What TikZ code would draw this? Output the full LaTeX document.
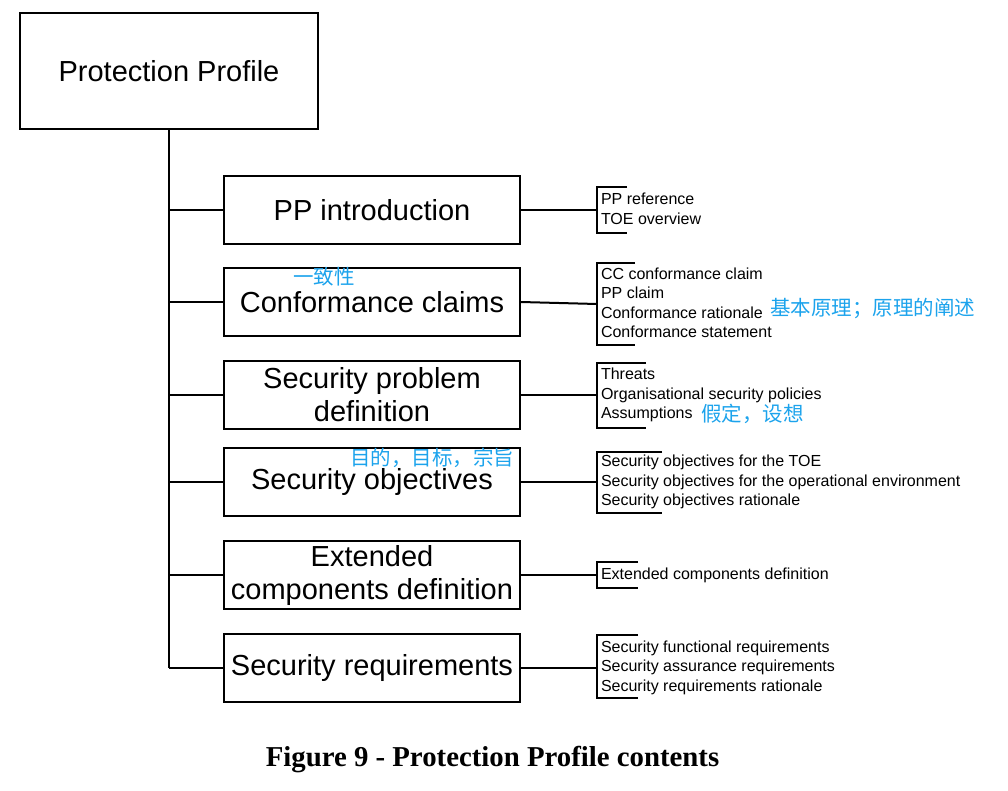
\documentclass[tikz,border=0pt]{standalone}
\usepackage{fontspec}
\setmainfont{Liberation Sans}
\newfontfamily\capfont{Liberation Serif}
\newfontfamily\cjk{Noto Sans CJK SC}
\definecolor{note}{HTML}{1CA3EC}
\begin{document}
\begin{tikzpicture}[x=1pt,y=-1pt,line width=2pt,
  bigbox/.style={draw,inner sep=0pt,minimum width=296pt,minimum height=68pt,align=center,font=\fontsize{29}{33}\selectfont},
  item/.style={anchor=west,inner sep=0pt,align=left,font=\fontsize{16}{19.5}\selectfont},
  cn/.style={inner sep=0pt,text=note,font=\cjk\fontsize{20.5}{22}\selectfont}]
\useasboundingbox (0,0) rectangle (1008,790);
\node[draw,inner sep=0pt,minimum width=298pt,minimum height=116pt,font=\fontsize{29}{33}\selectfont] (pp) at (169,71) {Protection Profile};
\node[bigbox] (b1) at (372,210) {PP introduction};
\node[bigbox] (b2) at (372,302) {Conformance claims};
\node[bigbox] (b3) at (372,395) {Security problem\\definition};
\node[bigbox] (b4) at (372,482) {\raisebox{-2pt}{Security objectives}};
\node[bigbox] (b5) at (372,575) {Extended\\components definition};
\node[bigbox] (b6) at (372,668) {Security requirements};
% trunk
\coordinate (t0) at (169,129);
\coordinate (t6) at (169,668);
\draw (pp.south -| t0) -- (t6);
\foreach \i in {1,...,6}{\draw (b\i.west -| t0) -- (b\i.west);}
% brackets
\coordinate (k1) at (597,210);
\coordinate (k2) at (597,304);
\coordinate (k3) at (597,395);
\coordinate (k4) at (597,482);
\coordinate (k5) at (597,575);
\coordinate (k6) at (597,668);
\foreach \i/\t/\bo/\r in {1/187/233/627,2/263/345/635,3/363/428/646,4/452/513/662,5/562/588/638,6/635/698/638}{
  \draw (b\i.east) -- (k\i);
  \draw (\r,\t) -- (597,\t) -- (597,\bo) -- (\r,\bo);
}
\node[item] (l1) at (600,209) {PP reference\\TOE overview};
\node[item] (l2) at (600,303) {CC conformance claim\\PP claim\\Conformance rationale\\Conformance statement};
\node[item] (l3) at (600,395) {Threats\\Organisational security policies\\Assumptions};
\node[item] (l4) at (600,482) {Security objectives for the TOE\\Security objectives for the operational environment\\Security objectives rationale};
\node[item] (l5) at (600,575) {Extended components definition};
\node[item] (l6) at (600,667.5) {Security functional requirements\\Security assurance requirements\\Security requirements rationale};
% notes
\node[cn,anchor=west] (n1) at (292,277) {一致性};
\node[cn,anchor=west] (n2) at (769,308) {基本原理；原理的阐述};
\node[cn,anchor=west] (n3) at (700,414) {假定，设想};
\node[cn,anchor=west] (n4) at (349,458) {目的，目标，宗旨};
\node[inner sep=0pt,font=\capfont\bfseries\fontsize{28.8}{32}\selectfont] (cap) at (492.5,760) {Figure 9 - Protection Profile contents};
\end{tikzpicture}
\end{document}
